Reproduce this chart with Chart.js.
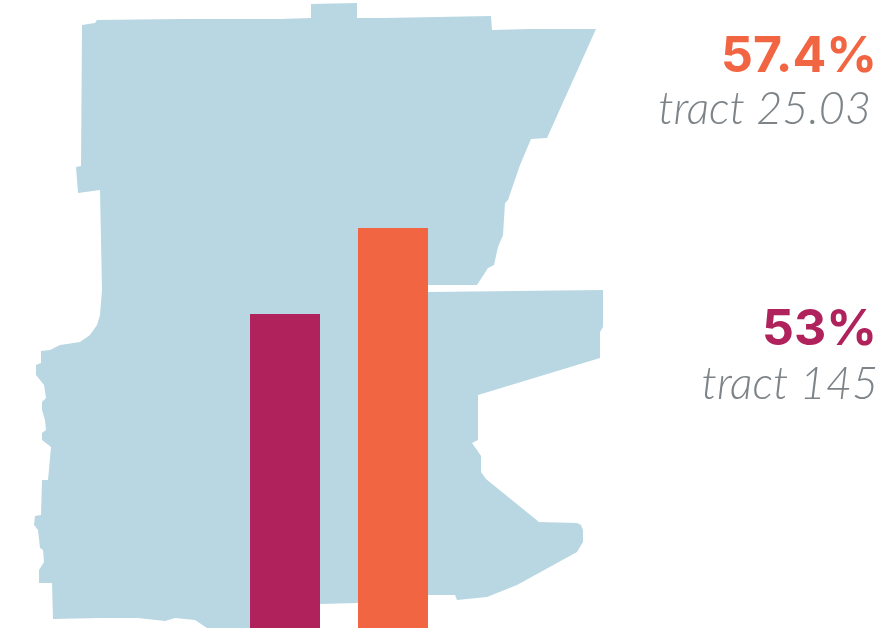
<!DOCTYPE html>
<html lang="en">
	<head>
		<meta charset="UTF-8" />
		<title>Tract comparison</title>
		<script src="https://cdn.jsdelivr.net/npm/chart.js"></script>
		<style>
			body { margin: 0; background: #fff; }
			canvas { display: block; }
		</style>
	</head>
	<body>
		<canvas id="tracts" width="886" height="635"></canvas>
		<script>
			const tractNames = ["tract 145", "tract 25.03"];
			const tractValues = [53, 57.4];
			const tractColors = ["#b0225b", "#f26542"];

			// Neighbourhood outline, clockwise from the north-west corner
			const outlineX = [82, 95, 97, 180, 280, 311, 311, 357, 357, 384, 491, 492, 530, 596, 547, 531, 520, 508, 505, 503, 498, 494, 488, 477, 428, 428, 603, 603, 600, 600, 478, 478, 472, 477, 481, 481, 486, 539, 577, 581, 583, 583, 577, 517, 487, 457, 455, 428, 358, 320, 250, 207, 195, 175, 165, 138, 100, 53, 52, 39, 39, 44, 43, 40, 38, 34, 35, 41, 42, 48, 51, 42, 42, 46, 45, 42, 42, 46, 44, 36, 36, 41, 41, 50, 60, 80, 90, 97, 100, 102, 100, 78, 76, 81];
			const outlineY = [25, 23, 20, 19, 19, 18, 4, 3, 18, 18, 16, 30, 29, 29, 138, 139, 165, 200, 203, 235, 247, 265, 268, 285, 285, 292, 290, 327, 332, 358, 395, 440, 443, 450, 456, 472, 479, 522, 523, 525, 530, 542, 552, 585, 597, 600, 595, 595, 603, 604, 628, 628, 620, 618, 621, 618, 618, 619, 583, 583, 570, 562, 550, 548, 530, 525, 516, 515, 480, 480, 447, 440, 433, 430, 420, 410, 402, 398, 385, 375, 365, 363, 351, 350, 345, 342, 335, 325, 315, 290, 190, 193, 167, 166];

			const outlinePoints = outlineX.map((x, i) => ({ x: x, y: outlineY[i] }));
			const barPoints = tractValues.map((v, i) => ({ x: i, y: v }));

			// Big percentage and tract name down the right side
			const sideLabels = {
				id: "sideLabels",
				afterDatasetsDraw(chart) {
					const ctx = chart.ctx;
					ctx.save();
					ctx.textAlign = "right";
					ctx.textBaseline = "alphabetic";

					ctx.font = "700 50px Inter";
					ctx.fillStyle = tractColors[1];
					ctx.fillText(tractValues[1] + "%", 877, 72);
					ctx.fillStyle = tractColors[0];
					ctx.fillText(tractValues[0] + "%", 877, 345);

					ctx.font = "italic 300 45px Lato";
					ctx.fillStyle = "#7d8387";
					ctx.fillText(tractNames[1], 871, 124);
					ctx.fillText(tractNames[0], 878, 399);
					ctx.restore();
				},
			};

			new Chart(document.getElementById("tracts").getContext("2d"), {
				data: {
					datasets: [
						{
							type: "bar",
							label: "Share",
							data: barPoints,
							xAxisID: "xBar",
							yAxisID: "yBar",
							backgroundColor: tractColors,
							grouped: false,
							categoryPercentage: 1,
							barPercentage: 0.648,
							order: 1,
						},
						{
							type: "scatter",
							label: "Outline",
							data: outlinePoints,
							xAxisID: "xMap",
							yAxisID: "yMap",
							showLine: true,
							fill: "shape",
							tension: 0,
							borderWidth: 0,
							pointRadius: 0,
							backgroundColor: "#b9d7e2",
							order: 2,
						},
					],
				},
				options: {
					responsive: false,
					animation: false,
					layout: { padding: { bottom: 7 } },
					plugins: { legend: { display: false }, tooltip: { enabled: false } },
					scales: {
						// One tract slot is 108px wide on the 886px axis
						xBar: { type: "linear", display: false, offset: false, min: -2.639, max: 5.565, ticks: { stepSize: 1, includeBounds: false } },
						yBar: { type: "linear", display: false, min: 36.93, max: 69.07 },
						xMap: { type: "linear", display: false, min: 0, max: 886 },
						yMap: { type: "linear", display: false, min: 0, max: 628, reverse: true },
					},
				},
				plugins: [sideLabels],
			});
		</script>
	</body>
</html>
